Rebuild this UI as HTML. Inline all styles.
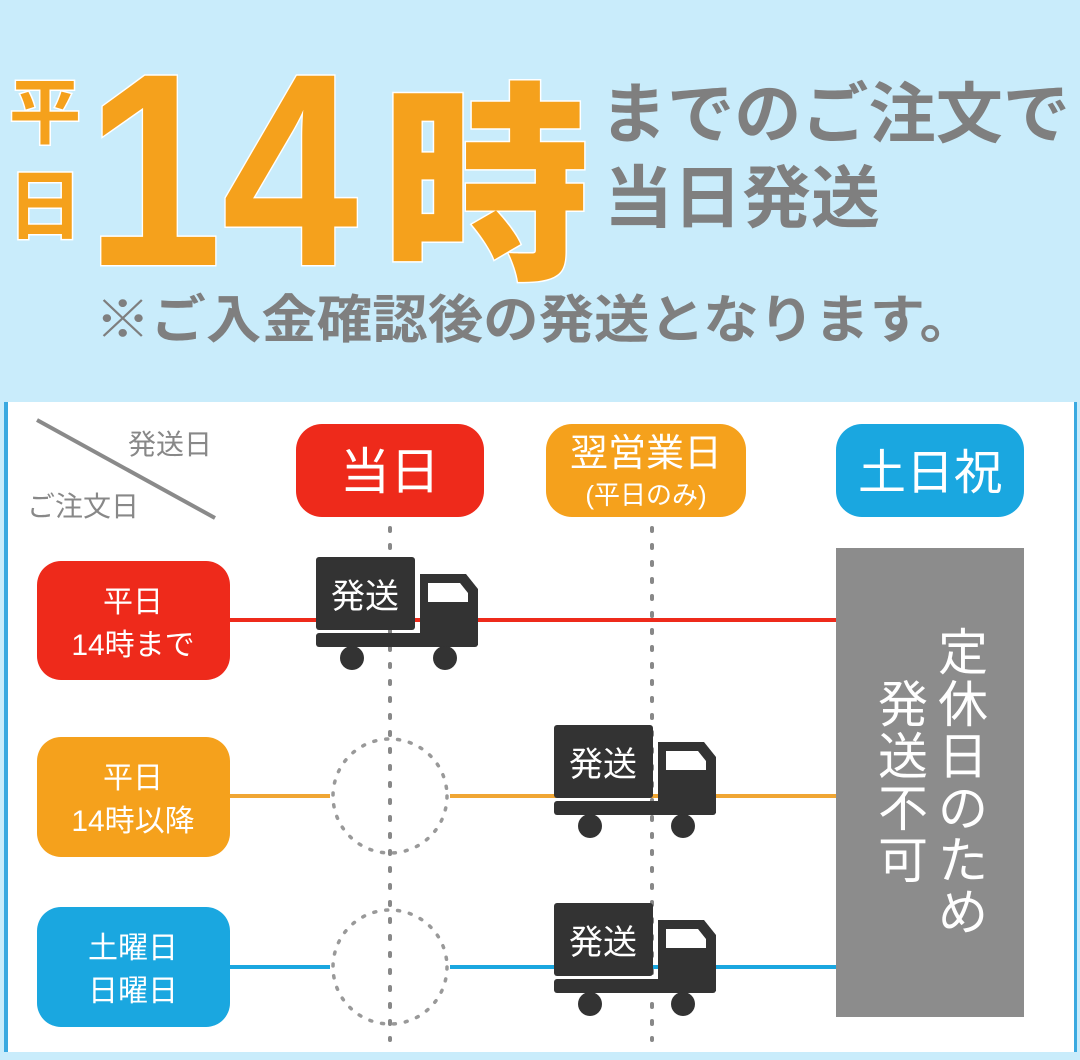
<!DOCTYPE html>
<html><head><meta charset="utf-8"><style>
html,body{margin:0;padding:0;background:#fff}
svg{display:block}
text{font-family:"Liberation Sans","Noto Sans CJK JP",sans-serif}
</style></head><body>
<svg width="1080" height="1060" viewBox="0 0 1080 1060" xmlns="http://www.w3.org/2000/svg">
<defs>
<g id="truck">
  <rect x="0" y="0" width="99" height="73" rx="3" fill="#333"/>
  <path d="M104 17 H150 L162 32 V88 H104 Z" fill="#333"/>
  <path d="M112 26 H144 L152 36 V45 H112 Z" fill="#fff"/>
  <rect x="0" y="76" width="162" height="14" rx="3" fill="#333"/>
  <circle cx="36" cy="101" r="12" fill="#333"/>
  <circle cx="129" cy="101" r="12" fill="#333"/>
  <text x="49" y="51" font-size="34" fill="#fff" text-anchor="middle">発送</text>
</g>
</defs>
<rect x="0" y="0" width="1080" height="400" fill="#c9ecfb"/>
<rect x="0" y="400" width="1080" height="660" fill="#c9ecfb"/>
<rect x="8" y="402" width="1066" height="650" fill="#fff"/>
<rect x="4" y="402" width="4" height="650" fill="#3aa9e0"/>
<rect x="1074" y="402" width="3" height="650" fill="#3aa9e0"/>

<g fill="#f5a11c" stroke="#fff" stroke-width="3" paint-order="stroke" font-weight="bold">
  <text x="45" y="138" font-size="72" text-anchor="middle">平</text>
  <text x="45" y="233" font-size="76" text-anchor="middle">日</text>
  <text x="86" y="265" font-size="275" textLength="272" lengthAdjust="spacingAndGlyphs" style="font-family:'Liberation Sans',sans-serif;font-weight:bold">14</text>
  <text x="382" y="262" font-size="212" textLength="208" lengthAdjust="spacingAndGlyphs" style="font-family:'Noto Sans CJK JP',sans-serif;font-weight:900">時</text>
</g>
<g fill="#7f7f7f" font-weight="bold">
  <text x="600" y="137" font-size="66" textLength="470" lengthAdjust="spacingAndGlyphs">までのご注文で</text>
  <text x="604" y="222" font-size="68" textLength="276" lengthAdjust="spacingAndGlyphs">当日発送</text>
  <text x="95" y="338" font-size="52" textLength="880" lengthAdjust="spacingAndGlyphs">※ご入金確認後の発送となります。</text>
</g>

<line x1="37" y1="420" x2="215" y2="518" stroke="#8a8a8a" stroke-width="4"/>
<text x="128" y="454" font-size="28" fill="#888">発送日</text>
<text x="27" y="516" font-size="28" fill="#888">ご注文日</text>

<rect x="296" y="424" width="188" height="93" rx="26" fill="#ee2a1b"/>
<text x="390" y="489" font-size="50" fill="#fff" text-anchor="middle">当日</text>
<rect x="546" y="424" width="200" height="93" rx="26" fill="#f5a11c"/>
<text x="646" y="466" font-size="38" fill="#fff" text-anchor="middle">翌営業日</text>
<text x="646" y="504" font-size="26" fill="#fff" text-anchor="middle">(平日のみ)</text>
<rect x="836" y="424" width="188" height="93" rx="26" fill="#1aa7e0"/>
<text x="930" y="489" font-size="48" fill="#fff" text-anchor="middle">土日祝</text>

<g stroke="#888" stroke-width="4" stroke-dasharray="3 14" stroke-linecap="round">
  <line x1="390" y1="528" x2="390" y2="1040"/>
  <line x1="652" y1="528" x2="652" y2="1040"/>
</g>
<g stroke="#999" stroke-width="3.5" stroke-dasharray="2 10" stroke-linecap="round" fill="none">
  <circle cx="390" cy="796" r="57"/>
  <circle cx="390" cy="967" r="57"/>
</g>

<line x1="230" y1="620" x2="836" y2="620" stroke="#ee2a1b" stroke-width="4"/>
<line x1="230" y1="796" x2="330" y2="796" stroke="#f0a634" stroke-width="4"/>
<line x1="450" y1="796" x2="836" y2="796" stroke="#f0a634" stroke-width="4"/>
<line x1="230" y1="967" x2="330" y2="967" stroke="#1aa7e0" stroke-width="4"/>
<line x1="450" y1="967" x2="836" y2="967" stroke="#1aa7e0" stroke-width="4"/>

<rect x="37" y="561" width="193" height="119" rx="24" fill="#ee2a1b"/>
<text x="133" y="612" font-size="30" fill="#fff" text-anchor="middle">平日</text>
<text x="133" y="655" font-size="30" fill="#fff" text-anchor="middle">14時まで</text>
<rect x="37" y="737" width="193" height="120" rx="24" fill="#f5a11c"/>
<text x="133" y="788" font-size="30" fill="#fff" text-anchor="middle">平日</text>
<text x="133" y="831" font-size="30" fill="#fff" text-anchor="middle">14時以降</text>
<rect x="37" y="907" width="193" height="120" rx="24" fill="#1aa7e0"/>
<text x="133" y="958" font-size="30" fill="#fff" text-anchor="middle">土曜日</text>
<text x="133" y="1001" font-size="30" fill="#fff" text-anchor="middle">日曜日</text>

<use href="#truck" x="316" y="557"/>
<use href="#truck" x="554" y="725"/>
<use href="#truck" x="554" y="903"/>

<rect x="836" y="548" width="188" height="469" fill="#8c8c8c"/>
<g fill="#fff" font-size="50" text-anchor="middle">
  <text x="963" y="670">定</text><text x="963" y="722">休</text><text x="963" y="774">日</text>
  <text x="963" y="826">の</text><text x="963" y="878">た</text><text x="963" y="930">め</text>
  <text x="903" y="722">発</text><text x="903" y="774">送</text><text x="903" y="826">不</text><text x="903" y="878">可</text>
</g>
</svg>
</body></html>
